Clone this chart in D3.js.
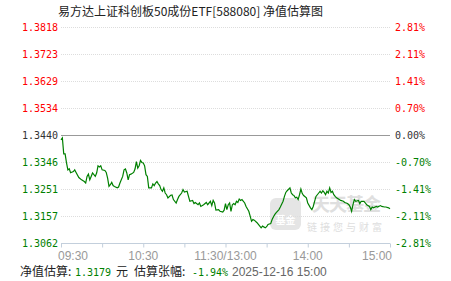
<!DOCTYPE html>
<meta charset="utf-8">
<script src="https://d3js.org/d3.v7.min.js"></script>
<style>
  body { margin: 0; background: #fff; }
</style>
<div id="chart"></div>
<script>
// estimated NAV, minute index from 09:30 (0) to 15:00 (240), lunch break removed
var minutes = [0,1,2,3,4,5,6,7,9,10,11,13,15,17,18,19,20,21,22,23,25,26,27,28,29,30,32,33,34,35,36,37,38,39,41,42,43,45,46,47,48,49,50,51,53,54,55,56,57,58,59,
  60,61,62,63,64,66,67,68,69,70,71,72,73,74,75,76,77,78,80,81,82,84,85,86,88,89,90,92,93,94,96,97,98,100,101,102,104,106,107,109,110,111,112,113,115,116,118,119,
  120,121,122,123,124,125,126,127,128,129,130,131,132,134,135,137,138,139,140,141,143,144,146,147,149,150,151,153,154,155,156,157,159,160,162,163,164,165,167,168,169,170,171,172,173,174,175,176,177,
  179,180,182,183,184,185,186,188,189,190,191,192,193,194,195,196,197,198,199,200,201,203,204,206,207,209,210,211,212,213,214,215,217,218,219,221,222,223,225,226,227,228,230,231,233,234,236,237,239,240];
var navValues = [1.3423,1.3430,1.3374,1.3374,1.3343,1.3318,1.3322,1.3308,1.3312,1.3318,1.3309,1.3291,1.3283,1.3277,1.3272,1.3295,1.3303,1.3283,1.3295,1.3307,1.3295,1.3307,1.3332,1.3328,1.3332,1.3318,1.3316,1.3309,1.3289,1.3260,1.3266,1.3274,1.3263,1.3260,1.3255,1.3258,1.3272,1.3295,1.3318,1.3321,1.3307,1.3283,1.3301,1.3303,1.3309,1.3321,1.3347,1.3324,1.3332,1.3351,1.3344,
  1.3342,1.3332,1.3301,1.3295,1.3255,1.3255,1.3269,1.3263,1.3272,1.3277,1.3269,1.3263,1.3249,1.3243,1.3255,1.3237,1.3231,1.3220,1.3229,1.3230,1.3214,1.3202,1.3214,1.3225,1.3237,1.3249,1.3240,1.3243,1.3225,1.3208,1.3211,1.3200,1.3204,1.3196,1.3202,1.3190,1.3196,1.3204,1.3196,1.3208,1.3193,1.3211,1.3202,1.3177,1.3179,1.3173,1.3170,1.3177,
  1.3200,1.3179,1.3196,1.3202,1.3173,1.3196,1.3200,1.3196,1.3208,1.3204,1.3216,1.3211,1.3214,1.3202,1.3190,1.3173,1.3156,1.3138,1.3144,1.3142,1.3133,1.3127,1.3115,1.3121,1.3115,1.3119,1.3127,1.3130,1.3144,1.3154,1.3162,1.3168,1.3179,1.3188,1.3208,1.3225,1.3239,1.3245,1.3255,1.3237,1.3231,1.3228,1.3220,1.3222,1.3214,1.3231,1.3251,1.3235,1.3228,
  1.3220,1.3202,1.3185,1.3179,1.3190,1.3208,1.3225,1.3237,1.3243,1.3237,1.3245,1.3239,1.3231,1.3243,1.3237,1.3255,1.3239,1.3243,1.3231,1.3225,1.3220,1.3214,1.3211,1.3208,1.3204,1.3200,1.3196,1.3188,1.3173,1.3196,1.3214,1.3208,1.3211,1.3200,1.3208,1.3208,1.3202,1.3196,1.3190,1.3179,1.3188,1.3185,1.3190,1.3188,1.3193,1.3190,1.3188,1.3188,1.3185,1.3182];

var priceTicks = ["1.3818","1.3723","1.3629","1.3534","1.3440","1.3346","1.3251","1.3157","1.3062"];
var pctTicks = ["2.81%","2.11%","1.41%","0.70%","0.00%","-0.70%","-1.41%","-2.11%","-2.81%"];
var timeTicks = [0,30,60,90,120,150,180,210,240];
var timeLabels = ["09:30","10:30","11:30/13:00","14:00","15:00"];
var timeLabelAt = [0,60,120,180,240];
var baseNav = 1.3440;

var W = 451, H = 281;
var margin = {top: 27, right: 61, bottom: 38, left: 61},
    width = W - margin.left - margin.right,
    height = H - margin.top - margin.bottom;

var svg = d3.select("#chart").append("svg")
    .attr("width", W).attr("height", H)
    .style("font-family", "'Liberation Sans', Arial, sans-serif");

svg.append("rect").attr("width", W).attr("height", H).attr("fill", "#fff");

// title
svg.append("text")
    .attr("x", 58).attr("y", 16)
    .attr("font-family", "'Noto Sans CJK SC', sans-serif")
    .attr("font-size", 12)
    .attr("fill", "#222")
    .text("易方达上证科创板50成份ETF[588080] 净值估算图");

var g = svg.append("g").attr("transform", "translate(" + margin.left + "," + margin.top + ")");

var x = d3.scaleLinear().domain([0, 240]).range([0, width]);
var y = d3.scaleLinear().domain([+priceTicks[priceTicks.length - 1], +priceTicks[0]]).range([height, 0]);

function tickColor(i) {
    var v = +priceTicks[i];
    if (Math.abs(v - baseNav) < 1e-6) return "#333";
    return v > baseNav ? "#ff0000" : "#008000";
}

// watermark
var wm = g.append("g").attr("opacity", 0.6);
wm.append("rect").attr("x", 209).attr("y", 171).attr("width", 31).attr("height", 32)
    .attr("rx", 6).attr("fill", "#d4d4d4");
wm.append("text").attr("x", 224.5).attr("y", 197).attr("text-anchor", "middle")
    .attr("font-family", "'Noto Sans CJK SC', sans-serif").attr("font-size", 10)
    .attr("font-weight", "bold").attr("fill", "#fff").text("基金");
wm.append("text").attr("x", 251).attr("y", 184)
    .attr("font-family", "'Noto Sans CJK SC', sans-serif").attr("font-size", 18)
    .attr("font-weight", "bold").attr("fill", "#cacaca").attr("letter-spacing", -1).text("天天基金");
wm.append("text").attr("x", 246).attr("y", 204)
    .attr("font-family", "'Noto Sans CJK SC', sans-serif").attr("font-size", 10)
    .attr("fill", "#cacaca").attr("letter-spacing", 3).text("链接您与财富");

// horizontal grid
g.selectAll(".grid").data(priceTicks.slice(0, -1)).enter().append("line")
    .attr("x1", 0).attr("x2", width)
    .attr("y1", function(d) { return Math.round(y(+d)) + 0.5; })
    .attr("y2", function(d) { return Math.round(y(+d)) + 0.5; })
    .attr("stroke", function(d) { return +d === baseNav ? "#999" : "#ddd"; })
    .attr("stroke-width", function(d) { return +d === baseNav ? 1.2 : 1; })
    .attr("stroke-dasharray", function(d) { return +d === baseNav ? null : "1,1"; });

// bottom axis
var xAxis = d3.axisBottom(x).tickValues(timeTicks).tickSize(4).tickFormat("");
var xa = g.append("g").attr("transform", "translate(0," + (Math.round(height) + 0.5) + ")").call(xAxis);
xa.select(".domain").attr("stroke", "#c3cfdc").attr("d", "M0,0H" + width);
xa.selectAll(".tick line").attr("stroke", "#c3cfdc");

g.selectAll(".tlabel").data(timeLabels).enter().append("text")
    .attr("x", function(d, i) { return x(timeLabelAt[i]); })
    .attr("y", height + 17)
    .attr("text-anchor", function(d, i) { return i === 0 ? "start" : (i === timeLabels.length - 1 ? "end" : "middle"); })
    .attr("dx", function(d, i) { return i === 0 ? -3 : (i === timeLabels.length - 1 ? 2 : 0); })
    .attr("font-size", 12)
    .attr("fill", "#999")
    .text(function(d) { return d; });

// left price labels
g.selectAll(".plabel").data(priceTicks).enter().append("text")
    .attr("x", -3).attr("y", function(d) { return y(+d) + 4; })
    .attr("text-anchor", "end")
    .attr("font-family", "'DejaVu Sans Mono', monospace").attr("font-size", 10)
    .attr("fill", function(d, i) { return tickColor(i); })
    .text(function(d) { return d; });

// right pct labels
g.selectAll(".pctlabel").data(pctTicks).enter().append("text")
    .attr("x", width + 5).attr("y", function(d, i) { return y(+priceTicks[i]) + 4; })
    .attr("font-family", "'DejaVu Sans Mono', monospace").attr("font-size", 10)
    .attr("fill", function(d, i) { return tickColor(i); })
    .text(function(d) { return d; });

// NAV line
var line = d3.line()
    .x(function(d, i) { return x(minutes[i]); })
    .y(function(d) { return y(d); });

g.append("path").datum(navValues)
    .attr("fill", "none")
    .attr("stroke", "#008000")
    .attr("stroke-width", 1.2)
    .attr("d", line);

// footer
var cjk = "'Noto Sans CJK SC', sans-serif", mono = "'DejaVu Sans Mono', monospace";
var footParts = [
    {x: 20, text: "净值估算:", font: cjk, size: 12, fill: "#222"},
    {x: 75, text: "1.3179", font: mono, size: 10, fill: "#008000"},
    {x: 116, text: "元", font: cjk, size: 12, fill: "#222"},
    {x: 134, text: "估算张幅:", font: cjk, size: 12, fill: "#222"},
    {x: 192, text: "-1.94%", font: mono, size: 10, fill: "#008000"},
    {x: 232, text: "2025-12-16 15:00", font: "'Liberation Sans', Arial, sans-serif", size: 12, fill: "#666"}
];
svg.selectAll(".foot").data(footParts).enter().append("text")
    .attr("x", function(d) { return d.x; })
    .attr("y", 276)
    .attr("font-family", function(d) { return d.font; })
    .attr("font-size", function(d) { return d.size; })
    .attr("fill", function(d) { return d.fill; })
    .text(function(d) { return d.text; });
</script>
